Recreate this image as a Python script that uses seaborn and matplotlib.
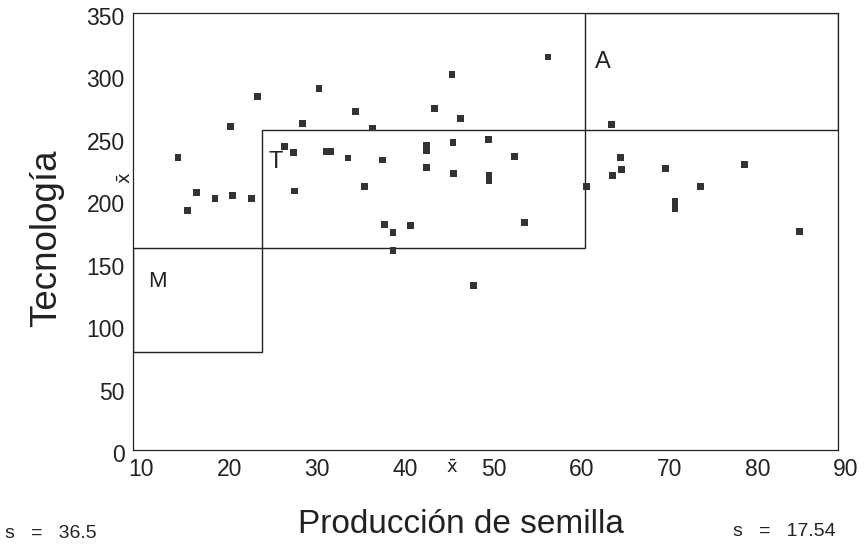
import numpy as np
import pandas as pd
import matplotlib
matplotlib.use("Agg")
import matplotlib.pyplot as plt
from matplotlib.patches import Rectangle
from matplotlib.transforms import ScaledTranslation, blended_transform_factory
import seaborn as sns

# ---- data ----
produccion = [24.15, 21.1, 15.1, 17.2, 19.3, 21.3, 23.4, 16.2, 27.2, 31.1,
              35.2, 44.2, 29.2, 37.2, 28.2, 31.9, 32.4, 34.4, 38.3, 43.3,
              43.3, 43.3, 28.3, 36.3, 57.1, 46.2, 47.2, 46.3, 50.3, 53.3,
              46.4, 50.4, 50.4, 61.5, 64.3, 65.3, 65.4, 64.4, 70.4, 74.4,
              71.5, 71.5, 79.4, 85.6, 38.5, 39.5, 41.5, 39.5, 48.6, 54.4]
tecnologia = [283.4, 259.0, 234.2, 206.0, 201.2, 203.7, 201.5, 191.9, 243.2, 289.8,
              270.8, 273.5, 261.5, 257.9, 238.4, 239.2, 239.2, 233.8, 232.2, 243.7,
              240.0, 226.4, 207.4, 211.1, 314.7, 300.5, 265.5, 246.4, 248.6, 235.0,
              221.6, 219.7, 216.0, 210.9, 260.9, 234.4, 224.8, 219.7, 225.3, 210.9,
              198.8, 193.5, 228.8, 175.2, 180.6, 174.4, 179.8, 159.7, 131.9, 182.5]

x_ticks = [10, 20, 30, 40, 50, 60, 70, 80, 90]
y_ticks = [0, 50, 100, 150, 200, 250, 300, 350]

x_mean = 46.2
y_mean = 218.0
s_tecnologia = "36.5"
s_produccion = "17.54"

region_names = ["M", "T", "A"]
region_x0 = [10.0, 24.6, 61.3]
region_x1 = [24.6, 61.3, 90.0]
region_y0 = [78.7, 162.0, 256.0]
region_y1 = [162.0, 256.0, 350.0]

df = pd.DataFrame({"Producción de semilla": produccion, "Tecnología": tecnologia})

# ---- style ----
sns.set_theme(style="white")
plt.rcParams["font.family"] = ["Liberation Sans", "DejaVu Sans"]
plt.rcParams["axes.edgecolor"] = "#222222"
plt.rcParams["axes.linewidth"] = 0.9

ink = "#222222"

fig = plt.figure(figsize=(8.65, 5.5), dpi=100)
fig.patch.set_facecolor("white")
ax = fig.add_axes([0.1538, 0.1818, 0.815, 0.7946])

sns.scatterplot(data=df, x="Producción de semilla", y="Tecnología", ax=ax,
                marker="s", s=24, color="#333333", edgecolor="none", linewidth=0,
                zorder=3)

# regions
for name, x0, x1, y0, y1 in zip(region_names, region_x0, region_x1, region_y0, region_y1):
    ax.add_patch(Rectangle((x0, y0), x1 - x0, y1 - y0, fill=False,
                           edgecolor=ink, linewidth=1.0, zorder=2))

ax.text(12.8, 135, "M", fontsize=16, color=ink, ha="center", va="center")
ax.text(26.2, 230.5, "T", fontsize=17, color=ink, ha="center", va="center")
ax.text(63.3, 310.7, "A", fontsize=17, color=ink, ha="center", va="center")

ax.set_xlim(10, 90)
ax.set_ylim(0, 350)
ax.set_xticks(x_ticks)
ax.set_yticks(y_ticks)
ax.tick_params(axis="both", length=0, colors=ink)
ax.tick_params(axis="x", labelsize=16.5, pad=6)
ax.tick_params(axis="y", labelsize=16.5, pad=6)

# small offsets of the printed tick labels
dx = ScaledTranslation(8 / 100, 0, fig.dpi_scale_trans)
for lab in ax.get_xticklabels():
    lab.set_transform(lab.get_transform() + dx)
dy = ScaledTranslation(0, -3 / 100, fig.dpi_scale_trans)
for lab in ax.get_yticklabels():
    lab.set_transform(lab.get_transform() + dy)

ax.set_xlabel("Producción de semilla", fontsize=24, color=ink)
ax.xaxis.set_label_coords(0.465, -0.136)
ax.set_ylabel("Tecnología", fontsize=26.5, color=ink)
ax.yaxis.set_label_coords(-0.098, 0.485)

# mean markers
tx = blended_transform_factory(ax.transData, ax.transAxes)
ax.text(x_mean, -0.041, r"$\bar{\mathrm{x}}$", transform=tx, fontsize=13,
        color=ink, ha="center", va="center", clip_on=False)
ty = blended_transform_factory(ax.transAxes, ax.transData)
ax.text(-0.0095, y_mean, r"$\bar{\mathrm{x}}$", transform=ty, fontsize=13,
        color=ink, ha="center", va="center", rotation=90, clip_on=False)

# standard deviations
fig.text(5 / 865, 1 - 534 / 550, "s   =   " + s_tecnologia, fontsize=14,
         color=ink, ha="left", va="center")
fig.text(836 / 865, 1 - 532 / 550, "s   =   " + s_produccion, fontsize=14,
         color=ink, ha="right", va="center")

fig.savefig("out.png", dpi=100, facecolor="white")
